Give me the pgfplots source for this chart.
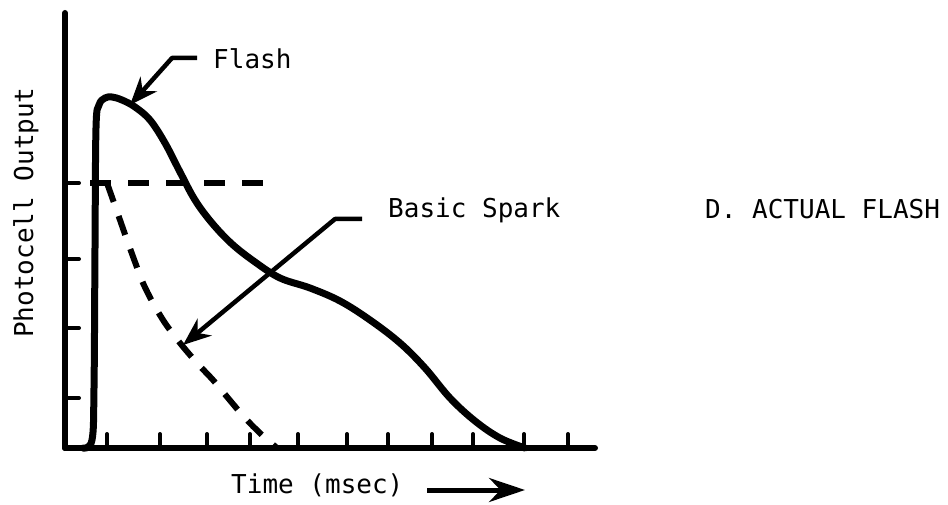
\documentclass[border=0pt]{standalone}
\usepackage{pgfplots}
\pgfplotsset{compat=1.18}
\usepackage{fontspec}
\setmainfont{DejaVu Sans Mono}
\usetikzlibrary{arrows.meta}
\begin{document}
\begin{tikzpicture}
\path[use as bounding box] (0,0) rectangle (948pt,504pt);
\begin{axis}[
  at={(65pt,56pt)}, anchor=south west,
  scale only axis, width=530pt, height=435pt,
  xmin=65, xmax=595, ymin=0, ymax=435,
  axis lines*=left,
  axis line style={line width=6pt, line cap=round},
  clip=false,
  xtick={107,160,207,250,298,347,388,432,473,524,568},
  ytick={50,120,189,265},
  xticklabels={}, yticklabels={},
  tick align=inside,
  major tick length=14pt,
  tick style={line width=4pt, black, line cap=round},
  font=\fontsize{26}{30}\selectfont,
]
% Flash curve
\addplot[black, line width=7pt, line join=round, line cap=round, smooth, tension=0.6] coordinates {
(83,0) (92,8) (94,60) (95,200) (96,320) (99,343) (105,350) (112,351) (122,348) (135,341)
(150,328) (165,305) (180,276) (195,248) (212,225) (232,204) (255,186) (280,170) (310,160)
(340,147) (370,128) (400,105) (425,80) (450,50) (475,27) (500,10) (525,0)
};
% Basic spark level
\addplot[black, line width=6pt, dash pattern=on 21pt off 17pt] coordinates {(90,265) (268,265)};
% Basic spark decay
\addplot[black, line width=6pt, dash pattern=on 20pt off 15pt, smooth] coordinates {
(107,265) (113,248) (120,228) (127,208) (135,186) (143,165) (153,145) (165,125) (180,105)
(197,85) (213,68) (228,50) (245,30) (262,13) (277,0)
};
% annotations
\draw[line width=4.5pt, line join=round, -{Stealth[length=28pt,width=22pt]}]
  (axis cs:197,390) -- (axis cs:172,390) -- (axis cs:130,343);
\draw[line width=4.5pt, line join=round, -{Stealth[length=28pt,width=22pt]}]
  (axis cs:362,229) -- (axis cs:335,229) -- (axis cs:183,103);
\draw[line width=5pt, -{Stealth[length=36pt,width=24pt]}]
  (axis cs:427,-42) -- (axis cs:525,-42);
\node[anchor=base west, inner sep=0pt] at (axis cs:213,379) {Flash};
\node[anchor=base west, inner sep=0pt] at (axis cs:388,230) {Basic Spark};
\node[anchor=base west, inner sep=0pt] at (axis cs:705,229) {D. ACTUAL FLASH};
\node[anchor=base west, inner sep=0pt] at (axis cs:231,-45) {Time (msec)};
\node[anchor=base west, inner sep=0pt, rotate=90] at (axis cs:33,110) {Photocell Output};
\end{axis}
\end{tikzpicture}
\end{document}
